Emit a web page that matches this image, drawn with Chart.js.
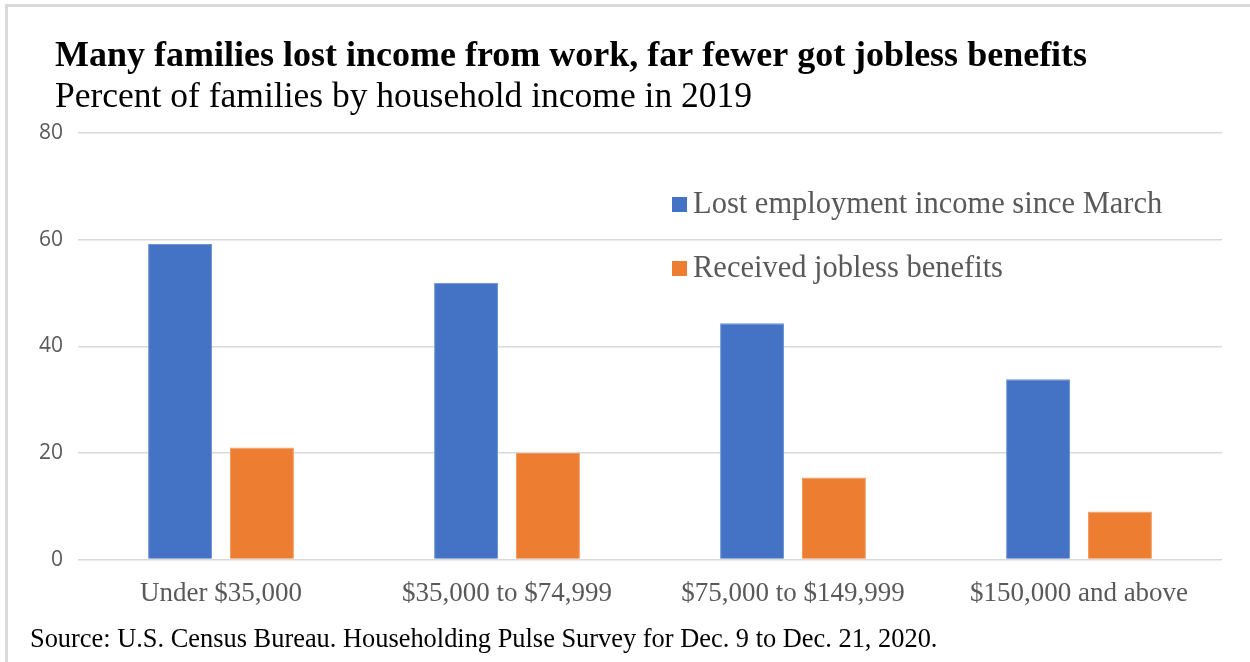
<!DOCTYPE html>
<html>
<head>
<meta charset="utf-8">
<script src="https://cdn.jsdelivr.net/npm/chart.js@4/dist/chart.umd.min.js"></script>
<style>
  html, body { margin: 0; padding: 0; background: #fff; }
  #wrap { position: relative; width: 1250px; height: 662px; overflow: hidden; }
  #frame { position: absolute; left: 5px; top: 4px; right: -10px; bottom: -10px;
           border-left: 3px solid #d9d9d9; border-top: 3px solid #d9d9d9; }
  #chart { position: absolute; left: 0; top: 0; }
</style>
</head>
<body>
<div id="wrap">
  <div id="frame"></div>
  <canvas id="chart" width="1250" height="662"></canvas>
</div>
<script>
const categories = ["Under $35,000", "$35,000 to $74,999", "$75,000 to $149,999", "$150,000 and above"];
const lostIncome = [59.2, 51.9, 44.3, 33.8];
const gotBenefits = [21.0, 20.0, 15.4, 9.0];
const yTicks = [0, 20, 40, 60, 80];

const serif = "'Liberation Serif', 'DejaVu Serif', serif";
const grey = "#595959";

// heading, subheading and source line drawn straight onto the canvas
const textBlocks = {
  id: "textBlocks",
  afterDraw(chart) {
    const ctx = chart.ctx;
    ctx.save();
    ctx.textBaseline = "alphabetic";
    ctx.fillStyle = "#000";
    ctx.font = "bold 36px " + serif;
    ctx.fillText("Many families lost income from work, far fewer got jobless benefits", 55, 66);
    ctx.font = "35.5px " + serif;
    ctx.fillText("Percent of families by household income in 2019", 55, 107);
    ctx.font = "26.4px " + serif;
    ctx.fillText("Source: U.S. Census Bureau. Householding Pulse Survey for Dec. 9 to Dec. 21, 2020.", 30, 647);
    ctx.restore();
  }
};

// legend sits inside the plot area, stacked, top right
const insideLegend = {
  id: "insideLegend",
  afterDraw(chart) {
    const ctx = chart.ctx;
    ctx.save();
    ctx.font = "30.5px " + serif;
    ctx.textBaseline = "alphabetic";
    chart.data.datasets.forEach((ds, i) => {
      const y = 213 + i * 64;
      ctx.fillStyle = ds.backgroundColor;
      ctx.fillRect(672, y - 16, 15, 15);
      ctx.fillStyle = grey;
      ctx.fillText(ds.label, 693, y);
    });
    ctx.restore();
  }
};

new Chart(document.getElementById("chart"), {
  type: "bar",
  data: {
    labels: categories,
    datasets: [
      {
        label: "Lost employment income since March",
        data: lostIncome,
        backgroundColor: "#4472C4",
        borderColor: "#6f93d3",
        borderWidth: 1,
        categoryPercentage: 0.573,
        barPercentage: 0.78,
      },
      {
        label: "Received jobless benefits",
        data: gotBenefits,
        backgroundColor: "#ED7D31",
        borderColor: "#f29a5e",
        borderWidth: 1,
        categoryPercentage: 0.573,
        barPercentage: 0.78,
      },
    ],
  },
  options: {
    responsive: false,
    animation: false,
    layout: { padding: { left: 20, right: 28, top: 133, bottom: 42 } },
    plugins: {
      legend: { display: false },
      tooltip: { enabled: false },
    },
    scales: {
      x: {
        grid: { display: false },
        border: { display: false },
        ticks: { color: grey, font: { family: serif, size: 27 }, padding: 10 },
      },
      y: {
        min: 0,
        max: 80,
        afterBuildTicks(scale) {
          scale.ticks = yTicks.map(v => ({ value: v }));
        },
        afterFit(scale) { scale.width = 58; },
        grid: { color: "#d9d9d9", lineWidth: 1.5, drawTicks: false },
        border: { display: false },
        ticks: { color: grey, font: { family: "'Open Sans', sans-serif", size: 21 }, padding: 15 },
      },
    },
  },
  plugins: [textBlocks, insideLegend],
});
</script>
</body>
</html>
